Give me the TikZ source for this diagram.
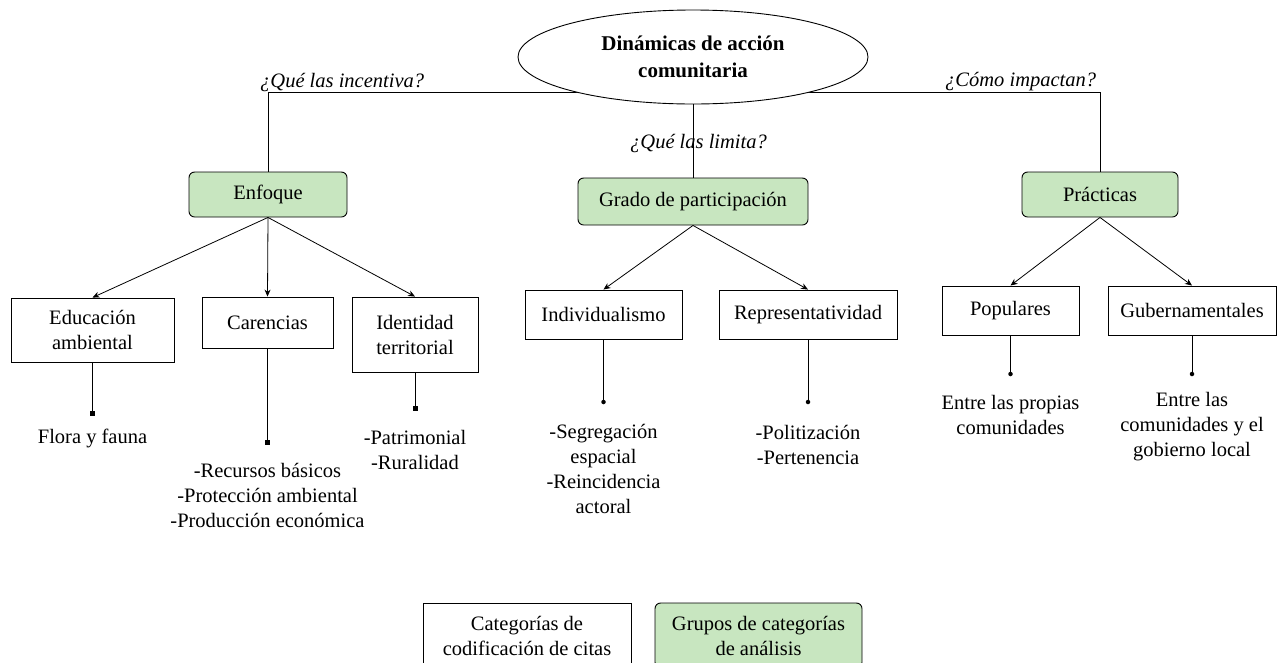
\documentclass[tikz,border=0pt]{standalone}
\usepackage{fontspec}
\setmainfont{Liberation Serif}
\usetikzlibrary{shapes,arrows.meta,positioning}
\definecolor{grupoverde}{HTML}{C8E6C0}
\def\fs{\fontsize{20.5}{25}\selectfont}
\tikzstyle{grupo} = [draw,rectangle,rounded corners=.2cm,fill=grupoverde,inner sep=0,align=center,font=\fs,line width=0.9pt]
\tikzstyle{categ} = [draw,rectangle,inner sep=0,align=center,font=\fs,line width=0.9pt]
\tikzstyle{cita} = [align=center,font=\fs,inner sep=0]
\tikzstyle{pregunta} = [font=\fs\itshape,anchor=base west,inner sep=0]
\tikzstyle{flecha} = [-{Stealth[length=7pt,width=6pt]},line width=0.8pt]
\tikzstyle{rama} = [-,line width=0.8pt]
\tikzstyle{cuad} = [fill,rectangle,inner sep=0,minimum size=5pt]
\tikzstyle{punto} = [fill,circle,inner sep=0,minimum size=4.5pt]

\begin{document}
\begin{tikzpicture}[x=1pt,y=-1pt]
  \useasboundingbox (0,0) rectangle (1278,662);
  \coordinate (rc) at (693,92);
  % grupos
  \node[grupo,minimum width=158pt,minimum height=45pt] (enf) at (268,194.5) {Enfoque};
  \node[grupo,minimum width=230pt,minimum height=47pt] (grado) at (693,201.5) {Grado de participación};
  \node[grupo,minimum width=156pt,minimum height=45pt] (prac) at (1100,194.5) {Prácticas};
  \draw[rama] (enf.north) |- (rc);
  \draw[rama] (prac.north) |- (rc);
  \node[draw,ellipse,fill=white,line width=0.9pt,minimum width=350pt,minimum height=94pt,inner sep=0,
        align=center,font={\fontsize{21}{27}\selectfont\bfseries}] (root) at (693,57)
        {Dinámicas de acción\\comunitaria};
  \draw[rama] (root.south) -- (grado.north);
  \node[pregunta] (q1) at (260,87) {¿Qué las incentiva?};
  \node[pregunta] (q2) at (630,148) {¿Qué las limita?};
  \node[pregunta] (q3) at (945,86) {¿Cómo impactan?};
  % categorias
  \node[categ,minimum width=163pt,minimum height=64pt] (edu) at (92.5,330) {Educación\\ambiental};
  \node[categ,minimum width=131pt,minimum height=51pt] (car) at (267.5,322.5) {Carencias};
  \node[categ,minimum width=126pt,minimum height=75pt] (ide) at (415,334.5) {Identidad\\territorial};
  \node[categ,minimum width=157pt,minimum height=49pt] (ind) at (603.5,314.5) {Individualismo};
  \node[categ,minimum width=178pt,minimum height=49pt] (rep) at (808,314.5) {Representatividad};
  \node[categ,minimum width=137pt,minimum height=49pt] (pop) at (1010.5,310.5) {Populares};
  \node[categ,minimum width=168pt,minimum height=49pt] (gub) at (1192,310.5) {Gubernamentales};
  \draw[flecha] (enf.south) -- (edu.north);
  \draw[flecha] (enf.south) -- (car.north);
  \draw[flecha] (enf.south) -- (ide.north);
  \draw[flecha] (grado.south) -- (ind.north);
  \draw[flecha] (grado.south) -- (rep.north);
  \draw[flecha] (prac.south) -- (pop.north);
  \draw[flecha] (prac.south) -- (gub.north);
  % citas
  \node[cuad] (dedu) at (92.5,413) {};
  \node[cuad] (dcar) at (267.5,442) {};
  \node[cuad] (dide) at (415,408) {};
  \node[punto] (dind) at (603.5,402) {};
  \node[punto] (drep) at (808,402) {};
  \node[punto] (dpop) at (1010.5,374) {};
  \node[punto] (dgub) at (1192,374) {};
  \foreach \c in {edu,car,ide,ind,rep,pop,gub}
    \draw[rama] (\c.south) -- (d\c.center);
  \node[cita] (tedu) at (92.5,438) {Flora y fauna};
  \node[cita] (tcar) at (267.5,495) {-Recursos básicos\\-Protección ambiental\\-Producción económica};
  \node[cita] (tide) at (415,449.5) {-Patrimonial\\-Ruralidad};
  \node[cita] (tind) at (603.5,469) {-Segregación\\espacial\\-Reincidencia\\actoral};
  \node[cita] (trep) at (808,444.5) {-Politización\\-Pertenencia};
  \node[cita] (tpop) at (1010.5,414.5) {Entre las propias\\comunidades};
  \node[cita] (tgub) at (1192,427) {Entre las\\comunidades y el\\gobierno local};
  % leyenda
  \node[categ,minimum width=208pt,minimum height=65pt] (ley1) at (527,635.5) {Categorías de\\codificación de citas};
  \node[grupo,minimum width=207pt,minimum height=65pt] (ley2) at (758.5,635.5) {Grupos de categorías\\de análisis};
\end{tikzpicture}
\end{document}
